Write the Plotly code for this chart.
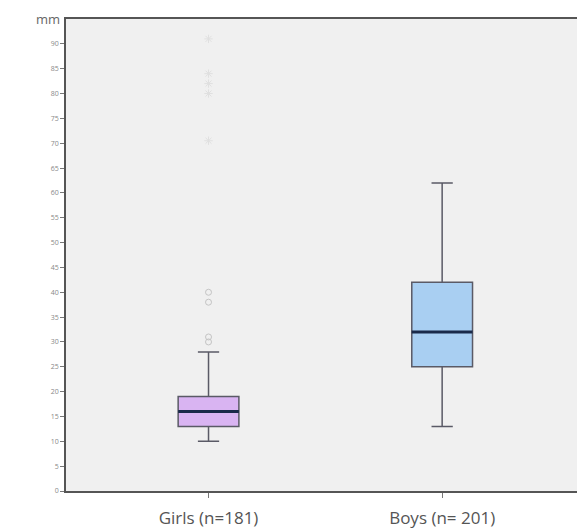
import plotly.graph_objects as go

categories = ["Girls (n=181)", "Boys (n= 201)"]
q1 = [13, 25]
median = [16, 32]
q3 = [19, 42]
lower_whisker = [10, 13]
upper_whisker = [28, 62]
fill_colors = ["#d9b4f2", "#a9cff2"]

# outliers (girls)
girls_outliers = [30, 31, 38, 40]
girls_extremes = [70.5, 80, 82, 84, 91]

fig = go.Figure()
for i, cat in enumerate(categories):
    fig.add_trace(go.Box(
        x=[cat], q1=[q1[i]], median=[median[i]], q3=[q3[i]],
        lowerfence=[lower_whisker[i]], upperfence=[upper_whisker[i]],
        fillcolor=fill_colors[i],
        line=dict(color="#5a5a66", width=1.5),
        whiskerwidth=0.35, width=0.26, boxpoints=False,
        showlegend=False,
    ))

fig.add_trace(go.Scatter(
    x=[categories[0]] * len(girls_outliers), y=girls_outliers, mode="markers",
    marker=dict(symbol="circle-open", size=6, color="#c4c4c4", line=dict(width=1)),
    showlegend=False))
fig.add_trace(go.Scatter(
    x=[categories[0]] * len(girls_extremes), y=girls_extremes, mode="markers",
    marker=dict(symbol="asterisk-open", size=7, color="#e0e0e0", line=dict(width=1)),
    showlegend=False))

# dark median lines drawn over boxes
for i, cat in enumerate(categories):
    fig.add_trace(go.Scatter(
        x=[i - 0.13, i + 0.13], y=[median[i], median[i]], mode="lines",
        line=dict(color="#1a2a4a", width=3), showlegend=False, xaxis="x2"))

xr = [-0.61, 1.59]
fig.update_layout(
    width=577, height=524,
    margin=dict(l=58, r=3, t=11, b=36),
    paper_bgcolor="white", plot_bgcolor="#f0f0f0",
    xaxis=dict(type="category", range=xr, showline=True, linecolor="#555555",
               linewidth=1.5, mirror=True, ticks="outside", ticklen=5, tickcolor="#777777",
               ticklabelstandoff=6,
               tickfont=dict(family="Open Sans", size=17, color="#555555"), showgrid=False),
    xaxis2=dict(overlaying="x", range=xr, visible=False),
    yaxis=dict(range=[0, 95], tickvals=list(range(0, 95, 5)), showline=True,
               linecolor="#555555", linewidth=1.5, mirror=True, ticks="outside", ticklen=4,
               tickcolor="#777777", tickfont=dict(family="Open Sans", size=7, color="#888888"),
               showgrid=False, zeroline=False),
    annotations=[dict(text="mm", xref="paper", yref="paper", x=0, y=1, xanchor="right",
                      yanchor="middle", xshift=-4, showarrow=False,
                      font=dict(family="Open Sans", size=13, color="#666666"))],
)
fig.write_html("out.html")
